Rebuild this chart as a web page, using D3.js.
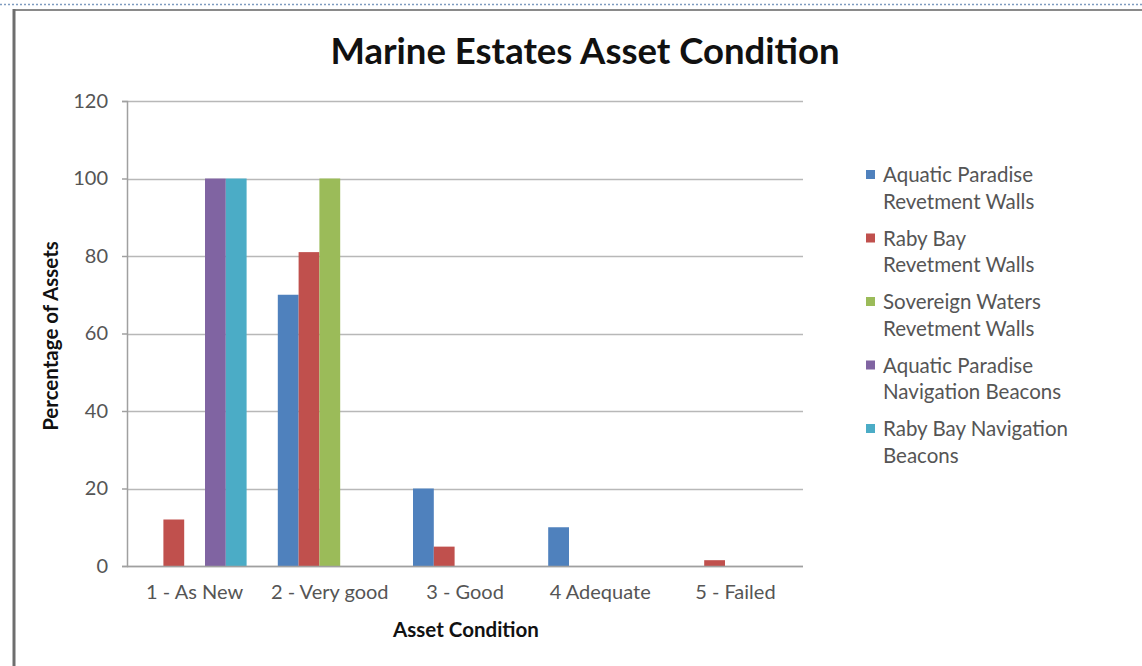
<!DOCTYPE html>
<html><head><meta charset="utf-8">
<script src="https://cdn.jsdelivr.net/npm/d3@7/dist/d3.min.js"></script>
<style>html,body{margin:0;padding:0;background:#fff;}</style>
</head><body>
<svg id="chart" width="1142" height="666"></svg>
<script>
const categories = ["1 - As New", "2 - Very good", "3 - Good", "4 Adequate", "5 - Failed"];
const seriesNames = [
  ["Aquatic Paradise", "Revetment Walls"],
  ["Raby Bay", "Revetment Walls"],
  ["Sovereign Waters", "Revetment Walls"],
  ["Aquatic Paradise", "Navigation Beacons"],
  ["Raby Bay Navigation", "Beacons"]
];
const aquaticWalls   = [0, 70, 20, 10, 0];
const rabyWalls      = [12, 81, 5, 0, 1.5];
const sovereignWalls = [0, 100, 0, 0, 0];
const aquaticBeacons = [100, 0, 0, 0, 0];
const rabyBeacons    = [100, 0, 0, 0, 0];
const seriesValues = [aquaticWalls, rabyWalls, sovereignWalls, aquaticBeacons, rabyBeacons];
const colors = ["#4F81BD", "#C0504D", "#9BBB59", "#8064A2", "#4BACC6"];
const yTicks = [0, 20, 40, 60, 80, 100, 120];

const font = "Lato, 'Open Sans', sans-serif";
const svg = d3.select("#chart");

// frame
svg.append("line").attr("x1", 0).attr("x2", 1142).attr("y1", 4.5).attr("y2", 4.5)
  .attr("stroke", "#7f9cc0").attr("stroke-width", 1.5).attr("stroke-dasharray", "2,2");
svg.append("line").attr("x1", 13).attr("x2", 1142).attr("y1", 10).attr("y2", 10)
  .attr("stroke", "#8a8a8a").attr("stroke-width", 2);
svg.append("line").attr("x1", 14).attr("x2", 14).attr("y1", 9).attr("y2", 666)
  .attr("stroke", "#6e6e6e").attr("stroke-width", 3);

const plotLeft = 127, plotRight = 803, plotTop = 101, plotBottom = 566;
const band = d3.scaleBand().domain(categories).range([plotLeft, plotRight]).padding(0);
// Excel-style: group of 5 bars + gap of 1.5 bar widths per category
const xs = d3.scaleBand().domain(d3.range(5)).range([0, band.bandwidth() * 5 / 6.5]);
const y = d3.scaleLinear().domain([0, 120]).range([plotBottom, plotTop]);

// gridlines
svg.append("g").selectAll("line").data(yTicks).join("line")
  .attr("x1", plotLeft).attr("x2", plotRight)
  .attr("y1", d => Math.round(y(d)) + 0.5).attr("y2", d => Math.round(y(d)) + 0.5)
  .attr("stroke", "#b8b8b8").attr("stroke-width", 1.5);

// y axis
const yAxis = svg.append("g").attr("transform", `translate(${plotLeft},0)`)
  .call(d3.axisLeft(y).tickValues(yTicks).tickSize(5).tickPadding(14));
yAxis.select(".domain").attr("stroke", "#a0a0a0").attr("stroke-width", 1.5);
yAxis.selectAll(".tick line").attr("stroke", "#a0a0a0").attr("stroke-width", 1.5);
yAxis.selectAll("text").attr("font-family", font).attr("font-size", 20).attr("fill", "#555");

// bars
const groupOffset = (band.bandwidth() - xs.range()[1]) / 2;
seriesValues.forEach((vals, si) => {
  svg.append("g").selectAll("rect").data(vals.map((v, i) => ({v, c: categories[i]})).filter(d => d.v > 0))
    .join("rect")
    .attr("x", d => band(d.c) + groupOffset + xs(si))
    .attr("width", xs.bandwidth())
    .attr("y", d => y(d.v))
    .attr("height", d => y(0) - y(d.v))
    .attr("fill", colors[si]);
});

// x axis
const xAxis = svg.append("g").attr("transform", `translate(0,${plotBottom})`)
  .call(d3.axisBottom(band).tickSize(0).tickPadding(19));
xAxis.select(".domain").remove();
xAxis.selectAll("text").attr("font-family", font).attr("font-size", 20).attr("fill", "#555");
svg.append("line").attr("x1", plotLeft).attr("x2", plotRight).attr("y1", plotBottom + 0.5).attr("y2", plotBottom + 0.5)
  .attr("stroke", "#a0a0a0").attr("stroke-width", 1.5);

// titles
svg.append("text").attr("x", 585).attr("y", 64).attr("text-anchor", "middle")
  .attr("font-family", font).attr("font-weight", "bold").attr("font-size", 36.5).attr("fill", "#111")
  .text("Marine Estates Asset Condition");
svg.append("text").attr("x", 466).attr("y", 637).attr("text-anchor", "middle")
  .attr("font-family", font).attr("font-weight", "bold").attr("font-size", 20.5).attr("fill", "#111")
  .text("Asset Condition");
svg.append("text").attr("transform", "translate(58,336) rotate(-90)").attr("text-anchor", "middle")
  .attr("font-family", font).attr("font-weight", "bold").attr("font-size", 20.5).attr("fill", "#111")
  .text("Percentage of Assets");

// legend
const lg = svg.append("g");
seriesNames.forEach((lines, i) => {
  const y0 = 175 + i * 63.5;
  lg.append("rect").attr("x", 866).attr("y", y0 - 5).attr("width", 9).attr("height", 9).attr("fill", colors[i]);
  const t = lg.append("text").attr("font-family", font).attr("font-size", 20.5).attr("fill", "#555");
  lines.forEach((l, j) => {
    t.append("tspan").attr("x", 883).attr("y", y0 + 7 + j * 26.5).text(l);
  });
});
</script>
</body></html>
